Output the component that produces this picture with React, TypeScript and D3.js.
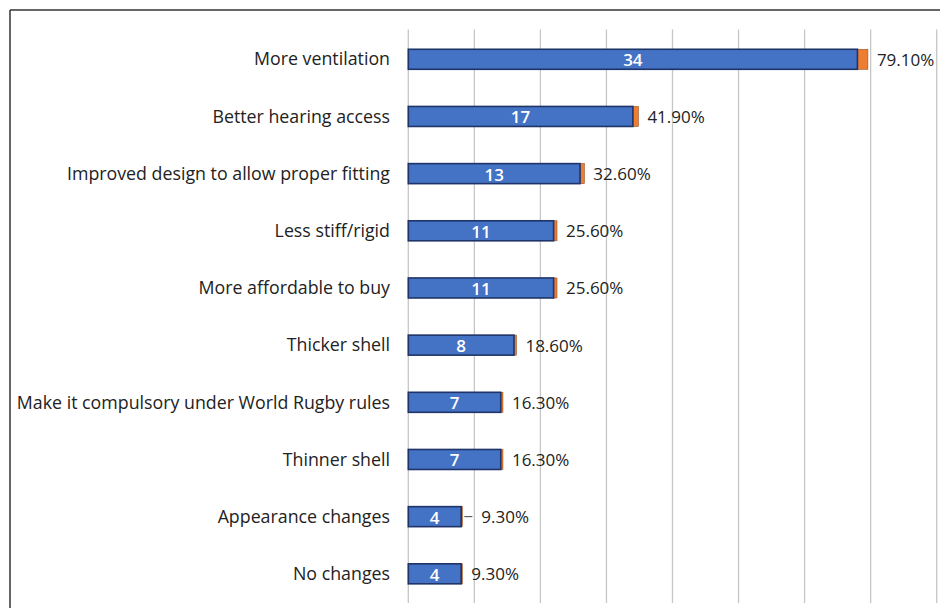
import React from "react";
import * as d3 from "d3";

const categories = [
  "More ventilation",
  "Better hearing access",
  "Improved design to allow proper fitting",
  "Less stiff/rigid",
  "More affordable to buy",
  "Thicker shell",
  "Make it compulsory under World Rugby rules",
  "Thinner shell",
  "Appearance changes",
  "No changes",
];
const counts = [34, 17, 13, 11, 11, 8, 7, 7, 4, 4];
const percents = [0.791, 0.419, 0.326, 0.256, 0.256, 0.186, 0.163, 0.163, 0.093, 0.093];
const percentLabels = ["79.10%", "41.90%", "32.60%", "25.60%", "25.60%", "18.60%", "16.30%", "16.30%", "9.30%", "9.30%"];
const gridTicks = [0, 5, 10, 15, 20, 25, 30, 35, 40];
const leaderRows = ["Appearance changes"];

const W = 940;
const H = 608;
const FONT = "'Open Sans', sans-serif";

export default function App() {
  const x = d3.scaleLinear().domain([0, 40]).range([408.3, 936.7]);
  const y = d3
    .scaleBand<string>()
    .domain(categories)
    .range([30.7, 602.4])
    .paddingInner(0.65)
    .paddingOuter(0.325);
  const bw = y.bandwidth();

  return (
    <svg
      width={W}
      height={H}
      style={{ position: "absolute", left: 0, top: 0, background: "#fff" }}
    >
      {/* frame */}
      <line x1={10} y1={10} x2={W} y2={10} stroke="#333" strokeWidth={1.5} />
      <line x1={10} y1={10} x2={10} y2={H} stroke="#333" strokeWidth={1.5} />

      {/* gridlines */}
      {gridTicks.map((t) => (
        <line
          key={t}
          x1={x(t)}
          x2={x(t)}
          y1={29.5}
          y2={603}
          stroke="#c6c6c6"
          strokeWidth={1.3}
        />
      ))}

      {categories.map((c, i) => {
        const yc = (y(c) as number) + bw / 2;
        const x0 = x(0);
        const x1 = x(counts[i]);
        const x2 = x(counts[i] + percents[i]);
        const leader = leaderRows.includes(c);
        const labelX = x2 + (leader ? 19 : 9);
        return (
          <g key={c}>
            <text
              x={390}
              y={yc - 0.8}
              textAnchor="end"
              dominantBaseline="central"
              fontFamily={FONT}
              fontSize={17.8}
              fill="#222"
            >
              {c}
            </text>
            <rect
              x={x1}
              y={y(c)}
              width={x2 - x1}
              height={bw}
              fill="#ED7D31"
              stroke="#9a4f1e"
              strokeWidth={0.6}
            />
            <rect
              x={x0}
              y={y(c)}
              width={x1 - x0}
              height={bw}
              fill="#4472C4"
              stroke="#1F3468"
              strokeWidth={1.6}
            />
            <text
              x={(x0 + x1) / 2}
              y={yc + 0.5}
              textAnchor="middle"
              dominantBaseline="central"
              fontFamily={FONT}
              fontSize={17}
              fontWeight={600}
              fill="#fff"
            >
              {counts[i]}
            </text>
            {leader && (
              <line
                x1={x2 + 2}
                x2={x2 + 10}
                y1={yc}
                y2={yc}
                stroke="#444"
                strokeWidth={1}
              />
            )}
            <text
              x={labelX}
              y={yc}
              dominantBaseline="central"
              fontFamily={FONT}
              fontSize={17}
              fill="#222"
            >
              {percentLabels[i]}
            </text>
          </g>
        );
      })}
    </svg>
  );
}
